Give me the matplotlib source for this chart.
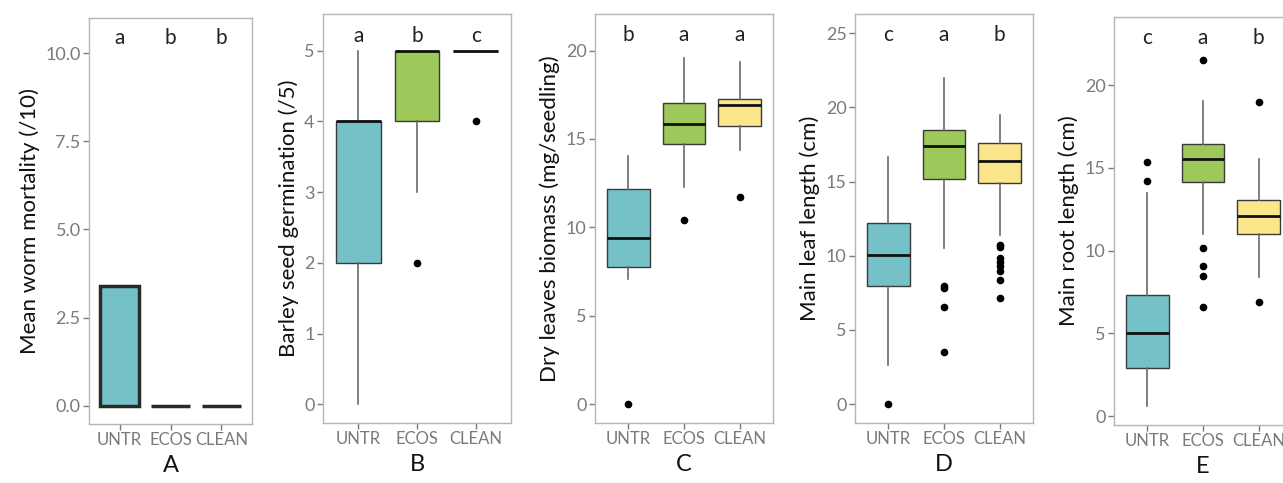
import matplotlib
matplotlib.use("Agg")
import matplotlib.pyplot as plt

plt.rcParams['font.family'] = ['Lato', 'DejaVu Sans']

categories = ["UNTR", "ECOS", "CLEAN"]
colors = ["#74C2C7", "#9DC95A", "#FCE68C"]

# Panel A: bar chart
mortality = [3.4, 0.0, 0.0]
letters_A = ["a", "b", "b"]

# Boxplot summaries: (whislo, q1, med, q3, whishi, fliers)
germ_stats = [
    (0, 2, 4, 4, 5, []),
    (3, 4, 5, 5, 5, [2]),
    (5, 5, 5, 5, 5, [4]),
]
letters_B = ["a", "b", "c"]

biomass_stats = [
    (7.07, 7.78, 9.39, 12.16, 14.04, [0.0]),
    (12.31, 14.71, 15.85, 17.06, 19.6, [10.42]),
    (14.38, 15.74, 16.91, 17.27, 19.36, [11.74]),
]
letters_C = ["b", "a", "a"]

leaf_stats = [
    (2.65, 7.97, 10.06, 12.24, 16.69, [0.0]),
    (10.51, 15.18, 17.4, 18.48, 21.97, [7.97, 7.85, 6.51, 3.5]),
    (11.4, 14.89, 16.42, 17.59, 19.49, [10.73, 10.6, 9.84, 9.6, 9.3, 8.94, 8.38, 7.18]),
]
letters_D = ["c", "a", "b"]

root_stats = [
    (0.6, 2.88, 5.03, 7.35, 13.46, [15.39, 14.2]),
    (11.0, 14.16, 15.57, 16.48, 19.03, [21.5, 10.19, 9.08, 8.48, 6.6]),
    (8.42, 10.98, 12.1, 13.05, 15.57, [18.99, 6.87]),
]
letters_E = ["c", "a", "b"]

W, H = 1283, 483
fig = plt.figure(figsize=(W / 100, H / 100), dpi=100)

def ax_at(x0, x1, y0, y1):
    return fig.add_axes([x0 / W, 1 - y1 / H, (x1 - x0) / W, (y1 - y0) / H])

tick_col = "#7a7a7a"
frame_col = "#b5b5b5"

def style(ax, ylabel, letter, ylim, yticks, yticklabels):
    ax.set_xlim(0.4, 3.6)
    ax.set_ylim(*ylim)
    ax.set_xticks([1, 2, 3])
    ax.set_xticklabels(categories)
    ax.set_yticks(yticks)
    ax.set_yticklabels(yticklabels)
    for s in ax.spines.values():
        s.set_color(frame_col)
        s.set_linewidth(1.0)
    ax.tick_params(colors=tick_col, labelcolor=tick_col,
                   length=4, width=1.0, pad=2)
    ax.tick_params(axis="x", labelsize=12)
    ax.tick_params(axis="y", labelsize=13)
    ax.set_ylabel(ylabel, fontsize=16, color="#111111", labelpad=4)
    ax.set_xlabel(letter, fontsize=17, color="#111111", labelpad=5)

def letters(ax, labs, y):
    for i, l in enumerate(labs):
        ax.text(i + 1, y, l, ha="center", va="center", fontsize=15, color="#222222")

def boxes(ax, stats):
    bxp = []
    for (lo, q1, med, q3, hi, fl) in stats:
        bxp.append(dict(whislo=lo, q1=q1, med=med, q3=q3, whishi=hi, fliers=fl))
    res = ax.bxp(bxp, positions=[1, 2, 3], widths=0.76, patch_artist=True,
                 showcaps=False, manage_ticks=False,
                 boxprops=dict(edgecolor="#3a3a3a", linewidth=1.0),
                 whiskerprops=dict(color="#6a6a6a", linewidth=1.2),
                 medianprops=dict(color="#111111", linewidth=2.0),
                 flierprops=dict(marker="o", markerfacecolor="black",
                                 markeredgecolor="black", markersize=4.5))
    for patch, c in zip(res["boxes"], colors):
        patch.set_facecolor(c)
    for b in res["boxes"]:
        b.set_zorder(2)
    for m in res["medians"]:
        m.set_zorder(3)

# Panel A
axA = ax_at(89, 252, 18, 424)
axA.bar([1, 2, 3], mortality, width=0.76, color=colors[0],
        edgecolor="#2a2a2a", linewidth=2.5)
style(axA, "Mean worm mortality (/10)", "A", (-0.52, 11.0),
      [0, 2.5, 5, 7.5, 10], ["0.0", "2.5", "5.0", "7.5", "10.0"])
letters(axA, letters_A, 10.43)

# Panel B
axB = ax_at(323, 511, 14, 423)
boxes(axB, germ_stats)
style(axB, "Barley seed germination (/5)", "B", (-0.265, 5.52),
      [0, 1, 2, 3, 4, 5], ["0", "1", "2", "3", "4", "5"])
letters(axB, letters_B, 5.21)

# Panel C
axC = ax_at(595, 773, 14, 423)
boxes(axC, biomass_stats)
style(axC, "Dry leaves biomass (mg/seedling)", "C", (-1.07, 22.07),
      [0, 5, 10, 15, 20], ["0", "5", "10", "15", "20"])
letters(axC, letters_C, 20.9)

# Panel D
axD = ax_at(855, 1033, 14, 423)
boxes(axD, leaf_stats)
style(axD, "Main leaf length (cm)", "D", (-1.28, 26.3),
      [0, 5, 10, 15, 20, 25], ["0", "5", "10", "15", "20", "25"])
letters(axD, letters_D, 24.9)

# Panel E (extends past the right edge)
axE = ax_at(1114, 1292, 17, 425)
boxes(axE, root_stats)
style(axE, "Main root length (cm)", "E", (-0.54, 24.13),
      [0, 5, 10, 15, 20], ["0", "5", "10", "15", "20"])
letters(axE, letters_E, 22.88)

fig.savefig("out.png", dpi=100)
